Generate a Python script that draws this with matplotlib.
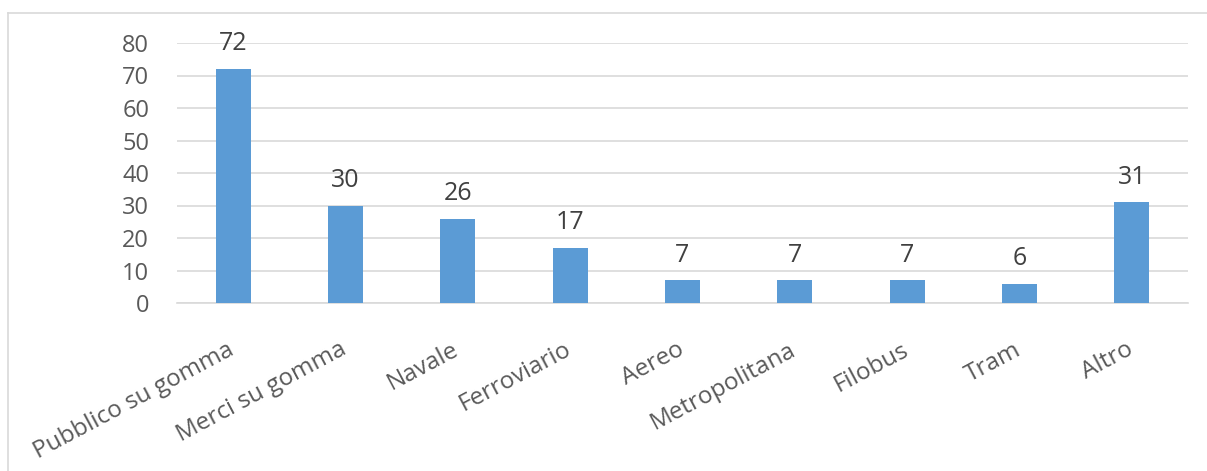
import numpy as np
import matplotlib.pyplot as plt
import matplotlib.transforms as mtransforms
from matplotlib.lines import Line2D

categories = ['Pubblico su gomma', 'Merci su gomma', 'Navale', 'Ferroviario',
              'Aereo', 'Metropolitana', 'Filobus', 'Tram', 'Altro']
values = [72, 30, 26, 17, 7, 7, 7, 6, 31]
yticks = [0, 10, 20, 30, 40, 50, 60, 70, 80]

plt.rcParams['font.family'] = ['Open Sans', 'DejaVu Sans']

W, H = 1207, 471
fig = plt.figure(figsize=(W / 100, H / 100), dpi=100)
ax = fig.add_axes([177 / W, 1 - 303 / H, (1188 - 177) / W, (303 - 43) / H])

x = np.arange(len(categories))
bars = ax.bar(x, values, width=0.31, color='#5B9BD5', zorder=3)
for xi, v in zip(x, values):
    ax.annotate(str(v), (xi, v), xytext=(0, 9), textcoords='offset points',
                ha='center', va='bottom', fontsize=18, color='#404040',
                annotation_clip=False)

ax.set_xlim(-0.5, len(categories) - 0.5)
ax.set_ylim(0, 80)
ax.set_yticks(yticks)
ax.yaxis.grid(True, color='#D9D9D9', linewidth=1.2, zorder=0)
ax.set_xticks(x)
ax.set_xticklabels(categories, rotation=28, ha='right', rotation_mode='anchor',
                   fontsize=17.5, color='#595959')
ax.tick_params(axis='x', length=0, pad=25)
ax.tick_params(axis='y', length=0, pad=20, labelsize=17, labelcolor='#595959')
shift = mtransforms.ScaledTranslation(-6 / 100, 0, fig.dpi_scale_trans)
for lab in ax.get_xticklabels():
    lab.set_transform(lab.get_transform() + shift)
for lab in ax.get_yticklabels():
    lab.set_ha('right')
for s in ['top', 'right', 'left']:
    ax.spines[s].set_visible(False)
ax.spines['bottom'].set_color('#D9D9D9')
ax.spines['bottom'].set_linewidth(1.2)

# chart frame (cropped)
fig.add_artist(Line2D([7.5 / W, 7.5 / W], [0, 1 - 12.5 / H], transform=fig.transFigure,
                      color='#D9D9D9', linewidth=1.2))
fig.add_artist(Line2D([7.5 / W, 1], [1 - 12.5 / H, 1 - 12.5 / H], transform=fig.transFigure,
                      color='#D9D9D9', linewidth=1.2))

fig.savefig('out.png', dpi=100)
